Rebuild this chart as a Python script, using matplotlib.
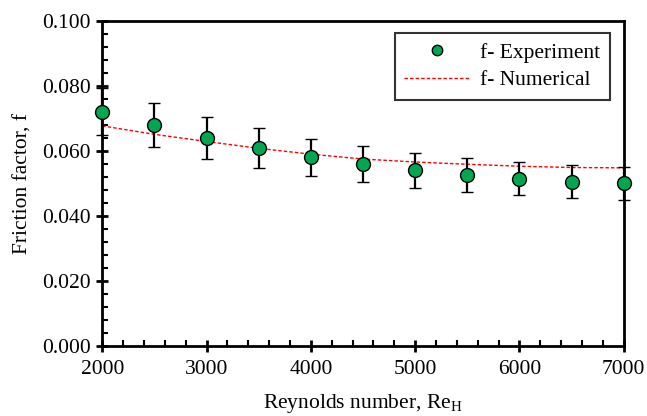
import numpy as np
import matplotlib.pyplot as plt
from matplotlib.ticker import MultipleLocator, FormatStrFormatter

plt.rcParams['font.family'] = ['Liberation Serif', 'DejaVu Serif']
plt.rcParams['mathtext.fontset'] = 'custom'
plt.rcParams['mathtext.rm'] = 'Liberation Serif'

# Datos
re_exp = [2000, 2500, 3000, 3500, 4000, 4500, 5000, 5500, 6000, 6500, 7000]
f_exp = [0.072, 0.068, 0.064, 0.061, 0.058, 0.056, 0.054, 0.0525, 0.0515, 0.0505, 0.050]
f_err = [0.1 * f for f in f_exp]  # barras de error del 10 %

re_num = [2000, 2500, 3000, 3500, 4000, 4500, 5000, 5500, 6000, 6500, 7000]
f_num = [0.0677, 0.0651, 0.0629, 0.0608, 0.0590, 0.0575, 0.0566, 0.0559, 0.0553, 0.0549, 0.0548]

fig = plt.figure(figsize=(6.47, 4.16), dpi=100)
ax = fig.add_axes([0.158, 0.168, 0.806, 0.782])

ax.plot(re_num, f_num, color='red', linestyle=(0, (2.5, 1.5)), linewidth=1.0,
        label='f- Numerical', zorder=2)
ax.errorbar(re_exp, f_exp, yerr=f_err, fmt='o', color='black', ecolor='black',
            elinewidth=1.6, capsize=4.5, capthick=1.6, markersize=10,
            markerfacecolor='#00A650', markeredgecolor='black', markeredgewidth=1.0,
            label='f- Experiment', zorder=3, clip_on=False)

ax.set_xlim(2000, 7000)
ax.set_ylim(0, 0.1)
ax.xaxis.set_major_locator(MultipleLocator(1000))
ax.xaxis.set_minor_locator(MultipleLocator(200))
ax.yaxis.set_major_locator(MultipleLocator(0.02))
ax.yaxis.set_minor_locator(MultipleLocator(0.004))
ax.yaxis.set_major_formatter(FormatStrFormatter('%.3f'))

ax.tick_params(which='major', direction='inout', length=8, width=2.0,
               labelsize=15.5, top=False, right=False)
ax.tick_params(axis='x', which='major', pad=6)
ax.tick_params(axis='y', which='major', pad=4)
ax.tick_params(which='minor', direction='in', length=4, width=1.5,
               top=False, right=False)
for s in ax.spines.values():
    s.set_linewidth(2.0)

ax.set_xlabel(r'Reynolds number, Re$_\mathrm{H}$', fontsize=15.5, labelpad=9)
ax.set_ylabel('Friction factor, f', fontsize=15.5, labelpad=7)

# Leyenda con los errores ocultos
h, l = ax.get_legend_handles_labels()
h = [h[1][0], h[0]]
l = [l[1], l[0]]
leg = ax.legend(h, l, loc='upper right', bbox_to_anchor=(0.973, 0.963),
                borderaxespad=0, fontsize=15.5, frameon=True, fancybox=False,
                edgecolor='black', handlelength=3.0, handletextpad=0.5,
                borderpad=0.45, labelspacing=0.35, markerscale=0.75)
leg.get_frame().set_linewidth(1.5)

fig.savefig('out.png', dpi=100)
